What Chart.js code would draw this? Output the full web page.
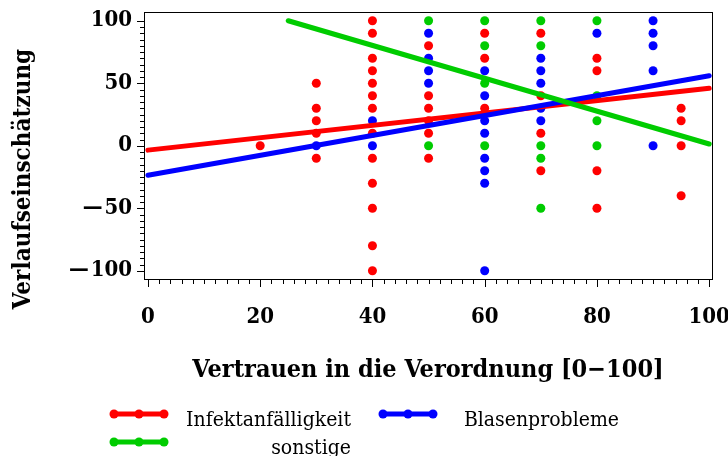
<!DOCTYPE html>
<html>
<head>
<meta charset="utf-8">
<script src="https://cdn.jsdelivr.net/npm/chart.js@4.4.1/dist/chart.umd.min.js"></script>
<style>
  html, body { margin: 0; padding: 0; background: #fff; }
</style>
</head>
<body>
<canvas id="chart" width="728" height="456"></canvas>
<script>
// scatter values, one pair of arrays per group
const infektX = [20, 30, 30, 30, 30, 30, 40, 40, 40, 40, 40, 40, 40, 40, 40, 40, 40, 40, 40,
                 50, 50, 50, 50, 50, 50, 60, 60, 60, 70, 70, 70, 70, 80, 80, 80, 80, 95, 95, 95, 95];
const infektY = [0, 50, 30, 20, 10, -10, 100, 90, 70, 60, 50, 40, 30, 10, -10, -30, -50, -80, -100,
                 80, 40, 30, 20, 10, -10, 90, 70, 30, 90, 40, 10, -20, 70, 60, -20, -50, 30, 20, 0, -40];

const blaseX = [30, 40, 40, 50, 50, 50, 50, 60, 60, 60, 60, 60, 60, 60, 60,
                70, 70, 70, 70, 70, 80, 90, 90, 90, 90, 90];
const blaseY = [0, 20, 0, 90, 70, 60, 50, 60, 40, 20, 10, -10, -20, -30, -100,
                70, 60, 50, 30, 20, 90, 100, 90, 80, 60, 0];

const sonstX = [50, 50, 60, 60, 60, 60, 70, 70, 70, 70, 70, 80, 80, 80, 80];
const sonstY = [100, 0, 100, 80, 50, 0, 100, 80, 0, -10, -50, 100, 40, 20, 0];

// fitted lines: start and end points
const fitInfekt = [[0, -3.5], [100, 46]];
const fitBlase = [[0, -23.6], [100, 56]];
const fitSonst = [[25, 100], [100, 1.4]];

const groupNames = ['Infektanfälligkeit', 'Blasenprobleme', 'sonstige'];
const groupColors = ['#ff0000', '#0000ff', '#00cc00'];

const xTickValues = [];
for (let v = 0; v <= 100; v += 2) xTickValues.push(v);
const yTickValues = [];
for (let v = -100; v <= 100; v += 5) yTickValues.push(v);

const yTitle = 'Verlaufseinschätzung';
const serif = "'DejaVu Serif Condensed', 'DejaVu Serif', serif";

function pairs(xs, ys) {
  return xs.map((x, i) => ({ x: x, y: ys[i] }));
}
function fitPoints(f) {
  return f.map(p => ({ x: p[0], y: p[1] }));
}

function pointSet(label, data, color) {
  return {
    type: 'scatter', label: label, data: data,
    backgroundColor: color, borderWidth: 0,
    pointRadius: 4.5, pointHoverRadius: 4.5, order: 5
  };
}
function lineSet(label, data, color, order) {
  return {
    type: 'line', label: label, data: data,
    borderColor: color, borderWidth: 5, borderCapStyle: 'round',
    pointRadius: 0, fill: false, order: order
  };
}

// ticks drawn by hand so major and minor marks get different lengths
const tickMarks = {
  id: 'tickMarks',
  afterDraw(chart) {
    const ctx = chart.ctx;
    const area = chart.chartArea;
    const xs = chart.scales.x, ys = chart.scales.y;
    ctx.save();
    ctx.strokeStyle = '#000';
    ctx.lineWidth = 1;
    ctx.strokeRect(area.left + 0.5, area.top + 0.5, area.right - area.left, area.bottom - area.top);
    ctx.beginPath();
    xTickValues.forEach(v => {
      const px = Math.round(xs.getPixelForValue(v)) + 0.5;
      ctx.moveTo(px, area.bottom);
      ctx.lineTo(px, area.bottom + (v % 20 === 0 ? 8 : 5));
    });
    yTickValues.forEach(v => {
      const py = Math.round(ys.getPixelForValue(v)) + 0.5;
      ctx.moveTo(area.left, py);
      ctx.lineTo(area.left - (v % 50 === 0 ? 7 : 4), py);
    });
    ctx.stroke();

    // y title sits lower than the plot centre in the original
    ctx.translate(24, 179);
    ctx.rotate(-Math.PI / 2);
    ctx.font = 'bold 24px ' + serif;
    ctx.fillStyle = '#000';
    ctx.textAlign = 'center';
    ctx.textBaseline = 'middle';
    ctx.fillText(yTitle, 0, 0);
    ctx.restore();
  }
};

// legend under the plot: line with three dots, label right-aligned
const bottomLegend = {
  id: 'bottomLegend',
  afterDraw(chart) {
    const ctx = chart.ctx;
    const slots = [
      { x: 114, y: 414, right: 351 },
      { x: 383, y: 414, right: 619 },
      { x: 114, y: 442, right: 351 }
    ];
    ctx.save();
    ctx.font = 'normal 21px ' + serif;
    ctx.textAlign = 'right';
    ctx.textBaseline = 'alphabetic';
    groupNames.forEach((name, i) => {
      const s = slots[i];
      ctx.strokeStyle = groupColors[i];
      ctx.fillStyle = groupColors[i];
      ctx.lineWidth = 5;
      ctx.lineCap = 'round';
      ctx.beginPath();
      ctx.moveTo(s.x, s.y);
      ctx.lineTo(s.x + 50, s.y);
      ctx.stroke();
      [0, 25, 50].forEach(d => {
        ctx.beginPath();
        ctx.arc(s.x + d, s.y, 4.5, 0, Math.PI * 2);
        ctx.fill();
      });
      ctx.fillStyle = '#000';
      ctx.fillText(name, s.right, s.y + 12);
    });
    ctx.restore();
  }
};

const ctx = document.getElementById('chart').getContext('2d');
const chart = new Chart(ctx, {
  data: {
    datasets: [
      lineSet('fit sonstige', fitPoints(fitSonst), groupColors[2], 0),
      lineSet('fit Blasenprobleme', fitPoints(fitBlase), groupColors[1], 1),
      lineSet('fit Infektanfälligkeit', fitPoints(fitInfekt), groupColors[0], 2),
      pointSet(groupNames[0], pairs(infektX, infektY), groupColors[0]),
      pointSet(groupNames[1], pairs(blaseX, blaseY), groupColors[1]),
      pointSet(groupNames[2], pairs(sonstX, sonstY), groupColors[2])
    ]
  },
  options: {
    responsive: false,
    animation: false,
    layout: { padding: { top: 12, right: 16, bottom: 67, left: 0 } },
    plugins: { legend: { display: false }, tooltip: { enabled: false } },
    scales: {
      x: {
        type: 'linear', min: -0.7, max: 100.5,
        afterBuildTicks: s => { s.ticks = xTickValues.map(v => ({ value: v })); },
        afterFit: s => { s.height = 110; s.paddingLeft = 0; s.paddingRight = 0; },
        grid: { display: false, drawTicks: false },
        border: { display: false },
        ticks: {
          autoSkip: false, maxRotation: 0, padding: 25, color: '#000',
          font: { family: serif, size: 22, weight: 'bold' },
          callback: v => (v % 20 === 0 ? String(v) : '')
        },
        title: {
          display: true, text: 'Vertrauen in die Verordnung [0\u2212100]', color: '#000',
          font: { family: serif, size: 25, weight: 'bold', lineHeight: 1.2 },
          padding: { top: 0, bottom: 4 }
        }
      },
      y: {
        type: 'linear', min: -106.6, max: 107,
        afterBuildTicks: s => { s.ticks = yTickValues.map(v => ({ value: v })); },
        afterFit: s => { s.width = 144; s.paddingTop = 0; s.paddingBottom = 0; },
        grid: { display: false, drawTicks: false },
        border: { display: false },
        ticks: {
          autoSkip: false, padding: 12, color: '#000',
          font: { family: serif, size: 22, weight: 'bold' },
          callback: v => (v % 50 === 0 ? (v < 0 ? '\u2014\u200a' + Math.abs(v) : String(v)) : '')
        },
        title: { display: false }
      }
    }
  },
  plugins: [tickMarks, bottomLegend]
});
</script>
</body>
</html>
